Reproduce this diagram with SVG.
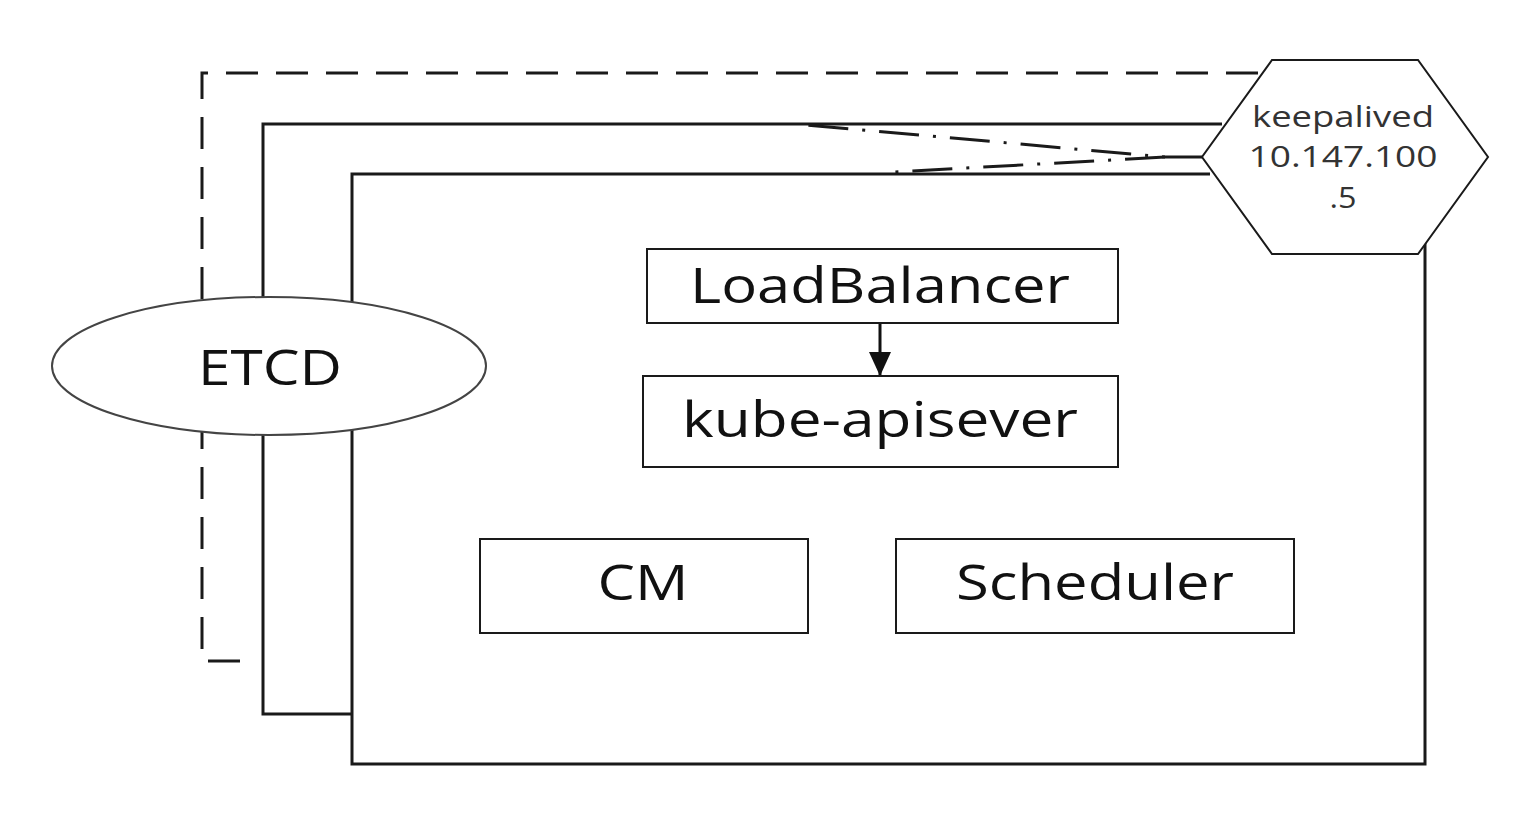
<svg xmlns="http://www.w3.org/2000/svg" width="1536" height="815" viewBox="0 0 1536 815">
<style>
.frame{fill:none;stroke:#1a1a1a;stroke-width:3}
.box{fill:#fff;stroke:#1a1a1a;stroke-width:2}
.lbl{font-family:"Open Sans","Noto Sans",sans-serif;fill:#111;text-anchor:middle}
.big{font-size:49px}
.small{font-size:29px;fill:#333}
.dd{fill:none;stroke:#1a1a1a;stroke-width:3;stroke-dasharray:40 14 3 14}
</style>
<defs>
<marker id="arr" markerWidth="24" markerHeight="22" refX="24" refY="11" orient="auto" markerUnits="userSpaceOnUse" viewBox="0 0 24 22">
<path d="M0,0 L24,11 L0,22 z" fill="#111"/>
</marker>
</defs>
<rect width="1536" height="815" fill="#fff"/>
<g id="outer-dashed">
<path d="M240,661 H202 V73 H1268" fill="none" stroke="#1a1a1a" stroke-width="3" stroke-dasharray="32 18"/>
</g>
<g id="middle-frame">
<path class="frame" d="M1222,124 H263 V714 H352"/>
</g>
<g id="inner-frame">
<path class="frame" d="M1210,174 H352 V764 H1425 V240"/>
</g>
<g id="connectors">
<path class="dd" d="M1202,157 L1165,157 L795,124"/>
<path class="dd" d="M1165,157 L895,172"/>
<line x1="880" y1="323" x2="880" y2="376" stroke="#111" stroke-width="3" marker-end="url(#arr)"/>
</g>
<g id="keepalived">
<polygon points="1272,60 1418,60 1488,157 1418,254 1272,254 1202,157" fill="#fff" stroke="#1a1a1a" stroke-width="2"/>
<text class="lbl small" x="1343" y="127" textLength="182" lengthAdjust="spacingAndGlyphs">keepalived</text>
<text class="lbl small" x="1343" y="167" textLength="189" lengthAdjust="spacingAndGlyphs">10.147.100</text>
<text class="lbl small" x="1343" y="208" textLength="27" lengthAdjust="spacingAndGlyphs">.5</text>
</g>
<g id="etcd">
<ellipse cx="269" cy="366" rx="217" ry="69" fill="#fff" stroke="#444" stroke-width="2"/>
<text class="lbl big" x="270" y="385" textLength="144" lengthAdjust="spacingAndGlyphs">ETCD</text>
</g>
<g id="loadbalancer">
<rect class="box" x="647" y="249" width="471" height="74"/>
<text class="lbl big" x="880" y="303" textLength="380" lengthAdjust="spacingAndGlyphs">LoadBalancer</text>
</g>
<g id="kube-apisever">
<rect class="box" x="643" y="376" width="475" height="91"/>
<text class="lbl big" x="880" y="437" textLength="396" lengthAdjust="spacingAndGlyphs">kube-apisever</text>
</g>
<g id="cm">
<rect class="box" x="480" y="539" width="328" height="94"/>
<text class="lbl big" x="643" y="600" textLength="91" lengthAdjust="spacingAndGlyphs">CM</text>
</g>
<g id="scheduler">
<rect class="box" x="896" y="539" width="398" height="94"/>
<text class="lbl big" x="1095" y="600" textLength="278" lengthAdjust="spacingAndGlyphs">Scheduler</text>
</g>
</svg>
